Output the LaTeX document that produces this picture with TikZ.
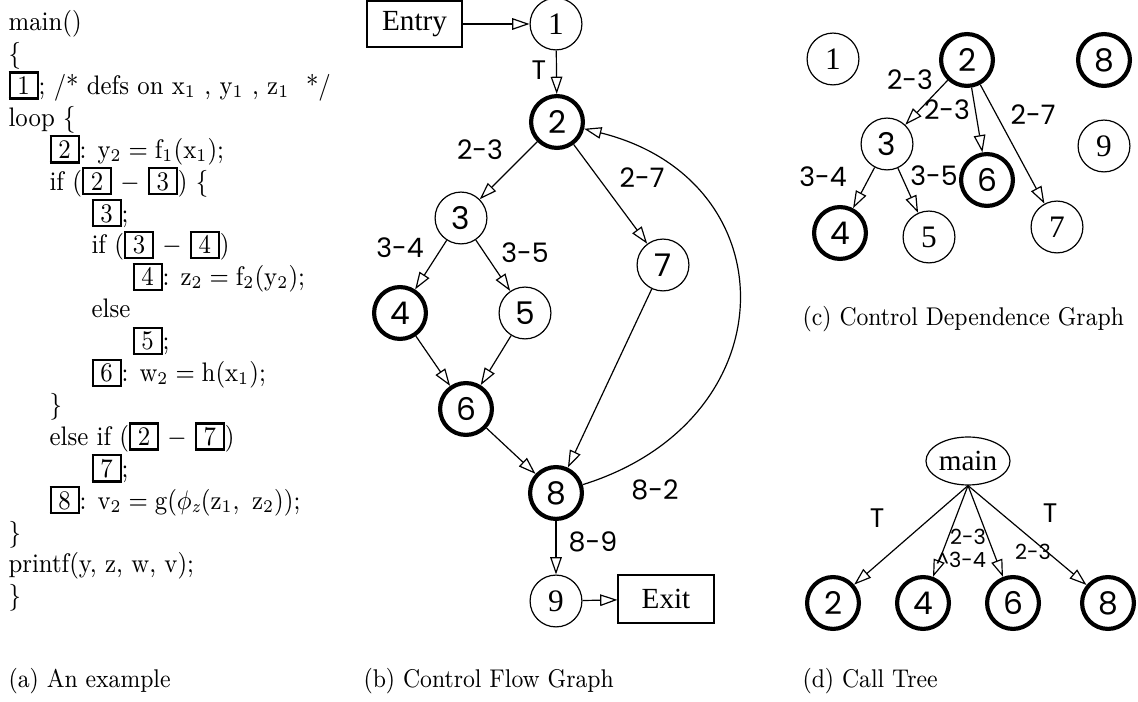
\documentclass[tikz,border=0pt]{standalone}
\usepackage{graphicx}
\usepackage{fontspec}
\newfontfamily\tmsfont{Liberation Serif}
\newfontfamily\agfont{Poppins}
\usetikzlibrary{arrows.meta, shapes.geometric}
% boxed statement number in the listing
\newcommand{\stmt}[1]{{\fboxsep=0pt\fboxrule=0.75pt\fbox{\makebox[9.7pt]{\rule[-1pt]{0pt}{8pt}#1}}}}
% narrow listing / caption text
\newcommand{\narrow}[1]{\scalebox{0.9}[1]{#1}}
\tikzset{
  flow/.style={-{Triangle[open, length=5.8pt, width=3.9pt]}, line width=0.4pt},
  blk/.style={circle, draw, line width=0.4pt, minimum size=17.4pt, inner sep=0pt, font=\agfont\fontsize{10.5}{12}\selectfont},
  hot/.style={blk, line width=1.4pt},
  rmblk/.style={blk, font=\tmsfont\fontsize{10.5}{12}\selectfont},
  term/.style={draw, line width=0.4pt, inner sep=0pt, font=\tmsfont\fontsize{9.8}{11}\selectfont},
  lbl/.style={inner sep=0pt, font=\agfont\fontsize{9}{10}\selectfont},
  code/.style={anchor=base west, inner sep=0pt, font=\fontsize{9}{10.7}\selectfont},
  figcap/.style={anchor=base west, inner sep=0pt, font=\fontsize{8.6}{10}\selectfont}
}
\begin{document}
\begin{tikzpicture}[x=0.3356pt, y=-0.3356pt]
\useasboundingbox (0,0) rectangle (1138,702);

% (a) the listing
\node[code] (k0) at (8,30.7) {\narrow{main()}};
\node[code] (k1) at (8,62.6) {\narrow{\{}};
\node[code] (k2) at (8,94.5) {\narrow{\stmt{1}; /* defs on x$_1$ , y$_1$ , z$_1$ \ */}};
\node[code] (k3) at (8,126.4) {\narrow{loop \{}};
\node[code] (k4) at (49,158.3) {\narrow{\stmt{2}: $\mathrm{y_2 = f_1(x_1)}$;}};
\node[code] (k5) at (49,190.2) {\narrow{if (\stmt{2}\ $-$\ \stmt{3}) \{}};
\node[code] (k6) at (91,222.1) {\narrow{\stmt{3};}};
\node[code] (k7) at (91,254) {\narrow{if (\stmt{3}\ $-$\ \stmt{4})}};
\node[code] (k8) at (132,285.9) {\narrow{\stmt{4}: $\mathrm{z_2 = f_2(y_2)}$;}};
\node[code] (k9) at (91,317.8) {\narrow{else}};
\node[code] (k10) at (132,349.7) {\narrow{\stmt{5};}};
\node[code] (k11) at (91,381.6) {\narrow{\stmt{6}: $\mathrm{w_2 = h(x_1)}$;}};
\node[code] (k12) at (49,413.5) {\narrow{\}}};
\node[code] (k13) at (49,445.4) {\narrow{else if (\stmt{2}\ $-$\ \stmt{7})}};
\node[code] (k14) at (91,477.3) {\narrow{\stmt{7};}};
\node[code] (k15) at (49,509.2) {\narrow{\stmt{8}: $\mathrm{v_2 = g(\phi_{\mathit{z}}(z_1,\ z_2))}$;}};
\node[code] (k16) at (8,541.1) {\narrow{\}}};
\node[code] (k17) at (8,573) {\narrow{printf(y, z, w, v);}};
\node[code] (k18) at (8,604.9) {\narrow{\}}};

% (b) control flow graph
\node[term, minimum width=31.9pt, minimum height=15.4pt] (entry) at (414.5,24) {Entry};
\node[rmblk] (c1) at (556,24) {1};
\node[hot] (c2) at (557,122) {2};
\node[blk] (c3) at (461,218) {3};
\node[hot] (c4) at (400,313) {4};
\node[blk] (c5) at (525,313) {5};
\node[hot] (c6) at (466,409) {6};
\node[blk] (c7) at (663,265) {7};
\node[hot] (c8) at (556,493) {8};
\node[rmblk] (c9) at (556,601) {9};
\node[term, minimum width=32.2pt, minimum height=16.1pt] (exit) at (666,599) {Exit};
\draw[flow] (entry) -- (c1);
\draw[flow] (c1) -- (c2);
\draw[flow] (c2) -- (c3);
\draw[flow] (c2) -- (c7);
\draw[flow] (c3) -- (c4);
\draw[flow] (c3) -- (c5);
\draw[flow] (c4) -- (c6);
\draw[flow] (c5) -- (c6);
\draw[flow] (c6) -- (c8);
\draw[flow] (c7) -- (c8);
\draw[flow] (c8) .. controls (790,420) and (790,180) .. (c2);
\draw[flow] (c8) -- (c9);
\draw[flow] (c9) -- (exit);
\node[lbl] (bT) at (539,70) {T};
\node[lbl] (b23) at (480,150) {2-3};
\node[lbl] (b27) at (642,178) {2-7};
\node[lbl] (b34) at (400,248) {3-4};
\node[lbl] (b35) at (525,253) {3-5};
\node[lbl] (b82) at (655,490) {8-2};
\node[lbl] (b89) at (593,542) {8-9};

% (c) control dependence graph
\node[rmblk] (d1) at (833,59) {1};
\node[hot] (d2) at (967,60) {2};
\node[hot] (d8) at (1104,60) {8};
\node[blk] (d3) at (887,144) {3};
\node[rmblk] (d9) at (1104,146) {9};
\node[hot] (d6) at (987,180) {6};
\node[hot] (d4) at (840,233) {4};
\node[rmblk] (d5) at (929,237) {5};
\node[rmblk] (d7) at (1057,227) {7};
\draw[flow] (d2) -- (d3);
\draw[flow] (d2) -- (d6);
\draw[flow] (d2) -- (d7);
\draw[flow] (d3) -- (d4);
\draw[flow] (d3) -- (d5);
\node[lbl] (e23) at (910,80) {2-3};
\node[lbl] (e26) at (947,110) {2-3};
\node[lbl] (e27) at (1033,115) {2-7};
\node[lbl] (e34) at (823,177) {3-4};
\node[lbl] (e35) at (934,176) {3-5};

% (d) call tree
\node[draw, ellipse, line width=0.4pt, minimum width=28.2pt, minimum height=16.1pt, inner sep=0pt,
  font=\tmsfont\fontsize{9.8}{11}\selectfont] (main) at (968,461) {main};
\node[hot] (t2) at (833,603) {2};
\node[hot] (t4) at (923,603) {4};
\node[hot] (t6) at (1013,603) {6};
\node[hot] (t8) at (1108,603) {8};
\draw[flow] (main.south) -- (t2);
\draw[flow] (main.south) -- (t4);
\draw[flow] (main.south) -- (t6);
\draw[flow] (main.south) -- (t8);
\node[lbl] (fT) at (877,518) {T};
\node[lbl] (gT) at (1050,513) {T};
\node[lbl, align=right, font=\agfont\fontsize{7}{7.7}\selectfont] (f4) at (961,548) {2-3\\\textasciicircum3-4};
\node[lbl, font=\agfont\fontsize{7}{8}\selectfont] (f6) at (1033,552) {2-3};

% captions
\node[figcap] (capa) at (8,688) {\narrow{(a) An example}};
\node[figcap] (capb) at (363,688) {\narrow{(b) Control Flow Graph}};
\node[figcap] (capc) at (802,326) {\narrow{(c) Control Dependence Graph}};
\node[figcap] (capd) at (802,688) {\narrow{(d) Call Tree}};
\end{tikzpicture}
\end{document}
